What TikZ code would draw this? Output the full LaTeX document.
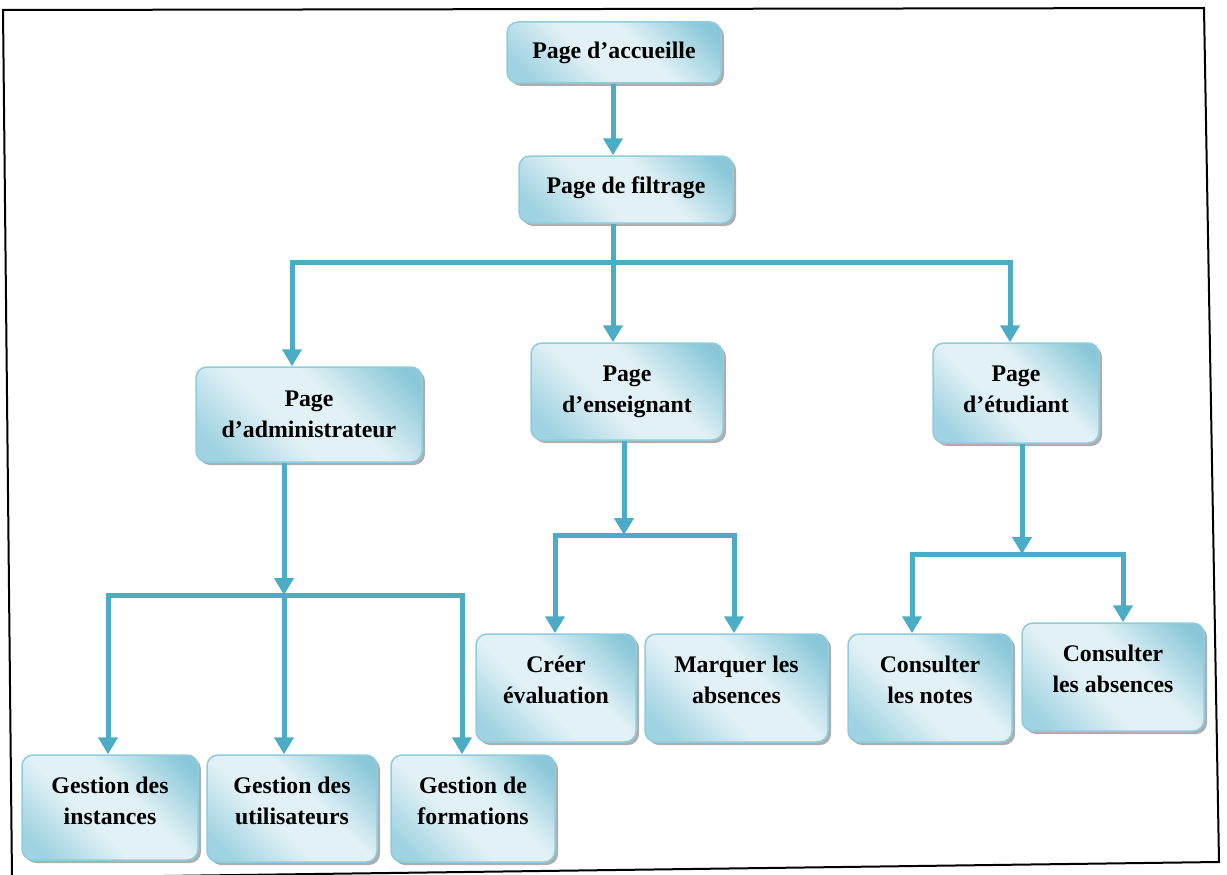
\documentclass[tikz,border=0pt]{standalone}
\usepackage{fontspec}
\setmainfont{Liberation Serif}
\usetikzlibrary{arrows.meta,shadows}

\definecolor{conn}{RGB}{75,172,198}
\definecolor{boxdark}{RGB}{138,200,217}
\definecolor{boxmid}{RGB}{160,211,225}
\definecolor{boxlight}{RGB}{226,241,246}
\definecolor{boxedge}{RGB}{143,204,221}

% diagonal aqua fill: darker towards the upper right and lower left corners, light through the middle
\pgfdeclarehorizontalshading{boxshade}{100bp}{color(0bp)=(boxmid); color(22bp)=(boxmid); color(42bp)=(boxlight); color(58bp)=(boxlight); color(80bp)=(boxdark); color(100bp)=(boxdark)}

\tikzset{
  pagebox/.style={draw=boxedge, line width=1.5pt, rounded corners=11pt,
    shading=boxshade, shading angle=45,
    drop shadow={shadow xshift=3pt, shadow yshift=-3pt, fill=black!45, opacity=.7},
    align=center, inner sep=0pt, text=black,
    font=\bfseries\fontsize{23.8}{31}\selectfont},
  flow/.style={draw=conn, line width=5pt, -{Triangle[width=19pt,length=17pt]}},
  flowboth/.style={draw=conn, line width=5pt, line join=miter,
    {Triangle[width=19pt,length=17pt]}-{Triangle[width=19pt,length=17pt]}},
}

\begin{document}
\begin{tikzpicture}[x=1pt,y=-1pt]
\useasboundingbox (0,0) rectangle (1227,875);

% hand-drawn looking frame
\draw[line width=2pt] (3,10) -- (1204,8) -- (1219,862) -- (12,878) -- cycle;

% pages
\node[pagebox, minimum width=214pt, minimum height=61pt] (accueil) at (614,52.5) {Page d’accueille};
\node[pagebox, minimum width=214pt, minimum height=67pt, text height=17pt, text depth=10pt] (filtrage) at (626,189.5) {Page de filtrage};
\node[pagebox, minimum width=226pt, minimum height=95pt] (admin) at (309,414.5) {Page\\d’administrateur};
\node[pagebox, minimum width=192pt, minimum height=97pt] (enseignant) at (627,391.5) {Page\\d’enseignant};
\node[pagebox, minimum width=166pt, minimum height=100pt, text height=48pt, text depth=10pt] (etudiant) at (1016,393) {Page\\d’étudiant};

\node[pagebox, minimum width=176pt, minimum height=105pt, text height=43pt, text depth=10pt] (instances) at (110,807.5) {Gestion des\\instances};
\node[pagebox, minimum width=170pt, minimum height=107pt, text height=41pt, text depth=10pt] (utilisateurs) at (292,808.5) {Gestion des\\utilisateurs};
\node[pagebox, minimum width=164pt, minimum height=107pt, text height=41pt, text depth=10pt] (formations) at (473,808.5) {Gestion de\\formations};

\node[pagebox, minimum width=160pt, minimum height=108pt, text height=40pt, text depth=10pt] (creer) at (556,688) {Créer\\évaluation};
\node[pagebox, minimum width=183pt, minimum height=108pt, text height=40pt, text depth=10pt] (marquer) at (736.5,688) {Marquer les\\absences};

\node[pagebox, minimum width=164pt, minimum height=108pt, text height=40pt, text depth=10pt] (notes) at (930,688) {Consulter\\les notes};
\node[pagebox, minimum width=182pt, minimum height=108pt, text height=40pt, text depth=10pt] (cabs) at (1113,677) {Consulter\\les absences};

% junction points of the branching bars
\coordinate (j0) at (613,262);
\coordinate (j0L) at (292,262);
\coordinate (j0R) at (1010,262);
\coordinate (j1) at (284,595);
\coordinate (j1L) at (108,595);
\coordinate (j1R) at (462,595);
\coordinate (j2) at (624,535);
\coordinate (j2L) at (555,535);
\coordinate (j2R) at (734,535);
\coordinate (j3) at (1022,554);
\coordinate (j3L) at (912,554);
\coordinate (j3R) at (1123,554);

% connectors
\draw[flow] (accueil.south -| j0) -- (filtrage.north -| j0);
\draw[flow] (filtrage.south -| j0) -- (enseignant.north -| j0);
\draw[flowboth] (admin.north -| j0L) -- (j0L) -- (j0R) -- (etudiant.north -| j0R);

\draw[flow] (admin.south -| j1) -- (j1);
\draw[flow] (j1) -- (utilisateurs.north -| j1);
\draw[flowboth] (instances.north -| j1L) -- (j1L) -- (j1R) -- (formations.north -| j1R);

\draw[flow] (enseignant.south -| j2) -- (j2);
\draw[flowboth] (creer.north -| j2L) -- (j2L) -- (j2R) -- (marquer.north -| j2R);

\draw[flow] (etudiant.south -| j3) -- (j3);
\draw[flowboth] (notes.north -| j3L) -- (j3L) -- (j3R) -- (cabs.north -| j3R);
\end{tikzpicture}
\end{document}
